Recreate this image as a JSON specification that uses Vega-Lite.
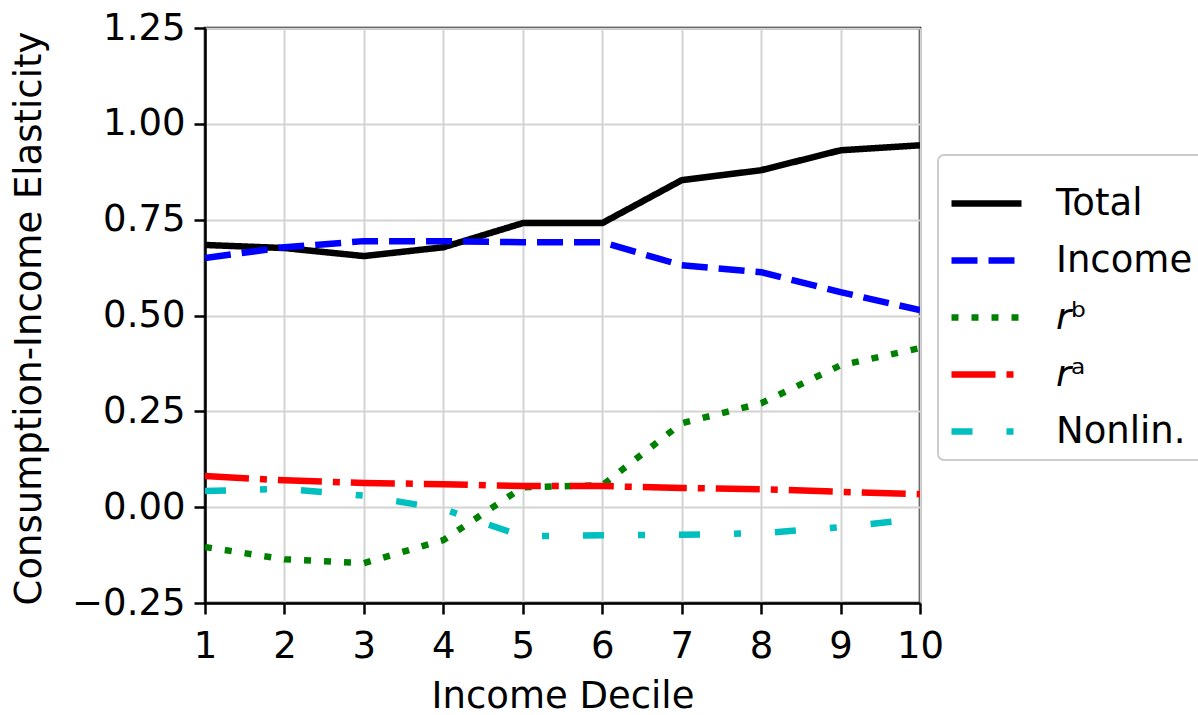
{
  "$schema": "https://vega.github.io/schema/vega-lite/v6.json",
  "width": 715,
  "height": 575,
  "autosize": {"type": "none"},
  "padding": {"left": 205, "top": 28, "right": 278, "bottom": 112},
  "background": "white",
  "config": {
    "font": "DejaVu Sans",
    "view": {"stroke": "black", "strokeWidth": 2.5},
    "axis": {
      "labelFont": "DejaVu Sans",
      "titleFont": "DejaVu Sans",
      "labelFontSize": 37,
      "titleFontSize": 37,
      "titleFontWeight": "normal",
      "labelColor": "black",
      "titleColor": "black",
      "domainColor": "black",
      "domainWidth": 2.5,
      "tickColor": "black",
      "tickWidth": 2.5,
      "tickSize": 11,
      "gridColor": "#d3d3d3",
      "gridWidth": 2
    },
    "legend": {
      "labelFont": "DejaVu Sans",
      "labelFontSize": 37,
      "labelColor": "black",
      "strokeWidth": 2
    }
  },
  "data": {
    "values": [
      {"decile": 1, "series": "Total", "value": 0.684},
      {"decile": 2, "series": "Total", "value": 0.676},
      {"decile": 3, "series": "Total", "value": 0.655},
      {"decile": 4, "series": "Total", "value": 0.678},
      {"decile": 5, "series": "Total", "value": 0.741},
      {"decile": 6, "series": "Total", "value": 0.741},
      {"decile": 7, "series": "Total", "value": 0.853},
      {"decile": 8, "series": "Total", "value": 0.879},
      {"decile": 9, "series": "Total", "value": 0.931},
      {"decile": 10, "series": "Total", "value": 0.944},
      {"decile": 1, "series": "Income", "value": 0.650},
      {"decile": 2, "series": "Income", "value": 0.678},
      {"decile": 3, "series": "Income", "value": 0.694},
      {"decile": 4, "series": "Income", "value": 0.694},
      {"decile": 5, "series": "Income", "value": 0.691},
      {"decile": 6, "series": "Income", "value": 0.691},
      {"decile": 7, "series": "Income", "value": 0.631},
      {"decile": 8, "series": "Income", "value": 0.613},
      {"decile": 9, "series": "Income", "value": 0.561},
      {"decile": 10, "series": "Income", "value": 0.514},
      {"decile": 1, "series": "𝘳ᵇ", "value": -0.104},
      {"decile": 2, "series": "𝘳ᵇ", "value": -0.136},
      {"decile": 3, "series": "𝘳ᵇ", "value": -0.146},
      {"decile": 4, "series": "𝘳ᵇ", "value": -0.086},
      {"decile": 5, "series": "𝘳ᵇ", "value": 0.052},
      {"decile": 6, "series": "𝘳ᵇ", "value": 0.057},
      {"decile": 7, "series": "𝘳ᵇ", "value": 0.219},
      {"decile": 8, "series": "𝘳ᵇ", "value": 0.271},
      {"decile": 9, "series": "𝘳ᵇ", "value": 0.370},
      {"decile": 10, "series": "𝘳ᵇ", "value": 0.415},
      {"decile": 1, "series": "𝘳ᵃ", "value": 0.081},
      {"decile": 2, "series": "𝘳ᵃ", "value": 0.070},
      {"decile": 3, "series": "𝘳ᵃ", "value": 0.063},
      {"decile": 4, "series": "𝘳ᵃ", "value": 0.060},
      {"decile": 5, "series": "𝘳ᵃ", "value": 0.055},
      {"decile": 6, "series": "𝘳ᵃ", "value": 0.055},
      {"decile": 7, "series": "𝘳ᵃ", "value": 0.050},
      {"decile": 8, "series": "𝘳ᵃ", "value": 0.047},
      {"decile": 9, "series": "𝘳ᵃ", "value": 0.040},
      {"decile": 10, "series": "𝘳ᵃ", "value": 0.034},
      {"decile": 1, "series": "Nonlin.", "value": 0.042},
      {"decile": 2, "series": "Nonlin.", "value": 0.048},
      {"decile": 3, "series": "Nonlin.", "value": 0.030},
      {"decile": 4, "series": "Nonlin.", "value": -0.005},
      {"decile": 5, "series": "Nonlin.", "value": -0.076},
      {"decile": 6, "series": "Nonlin.", "value": -0.073},
      {"decile": 7, "series": "Nonlin.", "value": -0.072},
      {"decile": 8, "series": "Nonlin.", "value": -0.068},
      {"decile": 9, "series": "Nonlin.", "value": -0.052},
      {"decile": 10, "series": "Nonlin.", "value": -0.030}
    ]
  },
  "mark": {"type": "line", "strokeWidth": 6.5, "strokeCap": "butt", "strokeJoin": "round", "clip": true},
  "encoding": {
    "x": {
      "field": "decile",
      "type": "quantitative",
      "title": "Income Decile",
      "scale": {"domain": [1, 10], "nice": false},
      "axis": {
        "values": [1, 2, 3, 4, 5, 6, 7, 8, 9, 10],
        "format": "d",
        "labelPadding": 14,
        "labelFlush": false,
        "titleBaseline": "alphabetic",
        "titleY": 104
      }
    },
    "y": {
      "field": "value",
      "type": "quantitative",
      "title": "Consumption-Income Elasticity",
      "scale": {"domain": [-0.25, 1.25], "nice": false, "zero": false},
      "axis": {
        "values": [-0.25, 0, 0.25, 0.5, 0.75, 1, 1.25],
        "format": ".2f",
        "labelPadding": 9,
        "labelFlush": false,
        "titleX": -176,
        "titleY": 290,
        "titleAngle": -90,
        "titleAlign": "center",
        "titleBaseline": "middle"
      }
    },
    "color": {
      "field": "series",
      "type": "nominal",
      "scale": {
        "domain": ["Total", "Income", "𝘳ᵇ", "𝘳ᵃ", "Nonlin."],
        "range": ["#000000", "#0000ff", "#008000", "#ff0000", "#00bfbf"]
      },
      "legend": {
        "title": null,
        "orient": "none",
        "legendX": 733,
        "legendY": 127,
        "symbolType": "stroke",
        "symbolSize": 4900,
        "symbolStrokeWidth": 6.5,
        "labelOffset": 31,
        "rowPadding": -1,
        "padding": 10,
        "strokeColor": "#cccccc",
        "cornerRadius": 6,
        "fillColor": "white"
      }
    },
    "strokeDash": {
      "field": "series",
      "type": "nominal",
      "scale": {
        "domain": ["Total", "Income", "𝘳ᵇ", "𝘳ᵃ", "Nonlin."],
        "range": [[1, 0], [26, 11], [7, 13], [44, 11, 7, 11], [21, 34, 7, 34]]
      },
      "legend": null
    },
    "order": {"field": "decile", "type": "quantitative"}
  }
}
